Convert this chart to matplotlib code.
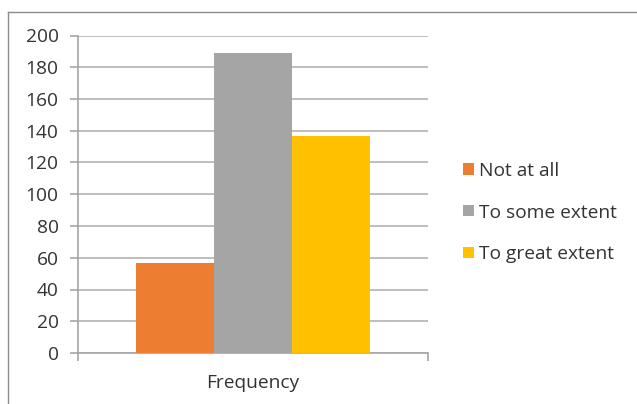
import matplotlib
matplotlib.use("Agg")
import matplotlib.pyplot as plt
from matplotlib.lines import Line2D

categories = ["Frequency"]
series_names = ["Not at all", "To some extent", "To great extent"]
series_values = [57, 189, 137]
series_colors = ["#ED7D31", "#A5A5A5", "#FFC000"]
yticks = [0, 20, 40, 60, 80, 100, 120, 140, 160, 180, 200]

plt.rcParams['font.family'] = ['Open Sans', 'DejaVu Sans']
FS = 13.8
TXT = "#333333"
W, H = 637, 404
fig = plt.figure(figsize=(W / 100, H / 100), dpi=100)
fig.patch.set_facecolor("white")

# outer chart frame (cropped on right and bottom)
fig.add_artist(Line2D([8 / W, 8 / W], [0, 1 - 12 / H], transform=fig.transFigure, color="#8c8c8c", lw=1))
fig.add_artist(Line2D([8 / W, 1], [1 - 12 / H, 1 - 12 / H], transform=fig.transFigure, color="#8c8c8c", lw=1))

ax_l, ax_r, ax_t, ax_b = 78, 428, 35.5, 353
ax = fig.add_axes([ax_l / W, 1 - ax_b / H, (ax_r - ax_l) / W, (ax_b - ax_t) / H])

bw = 0.223
offsets = [-1, 0, 1]
bars = []
for name, val, col, off in zip(series_names, series_values, series_colors, offsets):
    b = ax.bar(0 + off * bw, val, width=bw, color=col, label=name, zorder=3)
    bars.append(b)

ax.set_xlim(-0.5, 0.5)
ax.set_ylim(0, 200)
ax.set_yticks(yticks)
ax.set_yticklabels([str(v) for v in yticks])
ax.set_xticks([-0.5, 0.5])
ax.set_xticklabels(["", ""])
ax.text(0, -19, categories[0], ha="center", va="center", fontsize=FS, color=TXT,
        transform=ax.transData)

ax.yaxis.grid(True, color="#b3b3b3", lw=1.2, zorder=0)
ax.set_axisbelow(True)
for s in ["top", "right"]:
    ax.spines[s].set_visible(False)
for s in ["left", "bottom"]:
    ax.spines[s].set_color("#a6a6a6")
    ax.spines[s].set_linewidth(1.2)
ax.tick_params(axis="y", length=6, width=1.2, color="#a6a6a6", labelsize=FS, labelcolor=TXT, pad=8)
ax.tick_params(axis="x", length=6, width=1.2, color="#a6a6a6", direction="out")

fig.legend(handles=[b[0] for b in bars], labels=series_names, loc="center left",
           bbox_to_anchor=(463 / W, 1 - 212.5 / H), frameon=False, fontsize=FS,
           handlelength=0.55, handleheight=0.55, handletextpad=0.3, labelspacing=1.25,
           borderpad=0, borderaxespad=0, labelcolor=TXT)

fig.savefig("out.png", dpi=100, facecolor="white")
